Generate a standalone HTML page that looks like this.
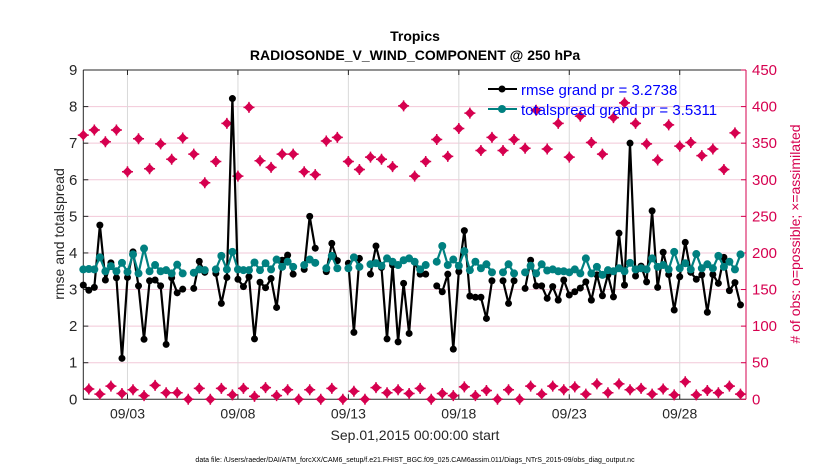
<!DOCTYPE html>
<html><head><meta charset="utf-8"><style>
body{margin:0;background:#fff;}
svg{display:block;font-family:"Liberation Sans",sans-serif;}
</style></head><body>
<svg id="chart" width="830" height="470" viewBox="0 0 830 470">
<rect width="830" height="470" fill="#fff"/>
<text x="415" y="41" text-anchor="middle" font-size="14" font-weight="bold">Tropics</text>
<text x="415" y="60" text-anchor="middle" font-size="14" font-weight="bold">RADIOSONDE_V_WIND_COMPONENT @ 250 hPa</text>
<g id="grid"></g><g id="axes"></g><g id="marks"></g>
<text x="415" y="440" text-anchor="middle" font-size="14" fill="#262626">Sep.01,2015 00:00:00 start</text>
<text x="415" y="462" text-anchor="middle" font-size="7" fill="#000">data file: /Users/raeder/DAI/ATM_forcXX/CAM6_setup/f.e21.FHIST_BGC.f09_025.CAM6assim.011/Diags_NTrS_2015-09/obs_diag_output.nc</text>
<text transform="translate(64,234) rotate(-90)" text-anchor="middle" font-size="14" fill="#262626">rmse and totalspread</text>
<text transform="translate(800,234) rotate(-90)" text-anchor="middle" font-size="14" fill="#d6004f"># of obs: o=possible; ×=assimilated</text>
<g>
<line x1="488" y1="89" x2="517" y2="89" stroke="#000" stroke-width="2"/>
<circle cx="502" cy="89" r="3.5" fill="#000"/>
<text x="521" y="95" font-size="15" fill="#0000ff">rmse grand pr = 3.2738</text>
<line x1="488" y1="109" x2="517" y2="109" stroke="#008080" stroke-width="2"/>
<circle cx="502" cy="109" r="4" fill="#008080"/>
<text x="521" y="115" font-size="15" fill="#0000ff">totalspread grand pr = 3.5311</text>
</g>
</svg>
<script>
const rmse=[3.12,2.98,3.06,4.76,3.26,3.73,3.32,1.12,3.33,4.03,3.1,1.64,3.24,3.26,3.1,1.5,3.32,2.91,3.01,null,3.03,3.77,3.47,null,3.44,2.62,3.33,8.22,3.28,3.08,3.35,1.65,3.2,3.05,3.3,2.51,3.8,3.94,3.42,null,3.55,5.0,4.13,null,3.49,4.26,3.79,null,3.72,1.83,3.85,null,3.42,4.19,3.6,1.65,3.67,1.57,3.17,1.8,3.76,3.42,3.42,null,3.1,2.94,3.42,1.37,3.49,4.61,2.82,2.79,2.79,2.21,3.24,null,3.24,2.62,3.24,null,3.03,3.8,3.1,3.1,2.76,3.08,2.71,3.26,2.85,2.94,3.04,3.21,2.71,3.4,2.83,3.4,2.8,4.54,3.12,7.0,3.37,3.64,3.21,5.15,3.06,4.02,3.41,2.44,3.35,4.29,3.47,3.28,3.4,2.38,3.41,3.17,3.88,2.97,3.19,2.58];
const spread=[3.55,3.56,3.55,3.88,3.5,3.64,3.5,3.73,3.48,3.96,3.44,4.12,3.5,3.67,3.5,3.53,3.44,3.68,3.44,null,3.46,3.55,3.53,null,3.55,3.92,3.55,4.03,3.55,3.53,3.53,3.74,3.53,3.72,3.55,3.82,3.62,3.76,3.62,null,3.67,3.82,3.73,null,3.58,3.92,3.58,null,3.58,3.88,3.62,null,3.69,3.72,3.65,3.85,3.76,3.67,3.8,3.85,3.76,3.55,3.67,null,3.76,4.19,3.67,3.82,3.65,4.05,3.53,3.76,3.58,3.69,3.47,null,3.47,3.69,3.44,null,3.47,3.65,3.44,3.69,3.52,3.55,3.5,3.5,3.47,3.55,3.44,3.85,3.44,3.62,3.4,3.53,3.5,3.58,3.5,3.73,3.55,3.58,3.55,3.85,3.62,3.67,3.55,4.03,3.58,3.72,3.55,3.97,3.58,3.69,3.58,3.92,3.62,3.76,3.55,3.96];
const obsSynoptic=[361,368,352,368,311,356,315,349,328,357,335,296,325,377,305,399,326,317,335,335,311,307,353,358,325,314,331,328,318,401,305,325,355,332,370,391,340,358,340,355,343,395,342,377,331,387,351,335,385,405,377,349,327,375,346,351,333,342,314,364];
const obsOffHour=[14,7,18,8,13,5,19,9,9,0,15,0,15,6,15,4,16,5,13,0,13,0,15,0,11,0,16,9,13,8,15,0,8,5,17,5,12,0,13,0,18,7,18,13,17,7,21,9,21,13,15,7,14,6,24,6,12,9,18,7];
const leftTicks=[0,1,2,3,4,5,6,7,8,9];
const rightTicks=[0,50,100,150,200,250,300,350,400,450];
const dateTicks=[2,7,12,17,22,27];
const dateLabels=["09/03","09/08","09/13","09/18","09/23","09/28"];
const stepDays=0.25;

const L=83.3,R=746,T=70,B=399.3;
const X=d=>L+(R-L)*d/30;
const Y=v=>B-(B-T)*v/9;
const Y2=v=>B-(B-T)*v/450;
const NS="http://www.w3.org/2000/svg";
function mk(tag,attrs,parent){const e=document.createElementNS(NS,tag);for(const k in attrs)e.setAttribute(k,attrs[k]);parent.appendChild(e);return e;}
const grid=document.getElementById('grid'),axes=document.getElementById('axes'),marks=document.getElementById('marks');

rightTicks.forEach(v=>{if(v===0)return;const l=mk('line',{x1:L,x2:R,y1:Y2(v),y2:Y2(v),stroke:'#f2c8d8','stroke-width':1},grid);

});
dateTicks.forEach(d=>{const l=mk('line',{x1:X(d),x2:X(d),y1:T,y2:B,stroke:'#d9d9d9','stroke-width':1},grid);

});

let a=mk('line',{x1:L,x2:L,y1:T,y2:B,stroke:'#262626','stroke-width':1},axes);


a=mk('line',{x1:L,x2:R,y1:B,y2:B,stroke:'#262626','stroke-width':1},axes);


a=mk('line',{x1:L,x2:R,y1:T,y2:T,stroke:'#262626','stroke-width':1},axes);


a=mk('line',{x1:R,x2:R,y1:T,y2:B,stroke:'#d6004f','stroke-width':1},axes);



leftTicks.forEach(v=>{mk('line',{x1:L,x2:L+5,y1:Y(v),y2:Y(v),stroke:'#262626'},axes);
const t=mk('text',{x:L-6,y:Y(v)+5,'text-anchor':'end','font-size':15,fill:'#262626'},axes);t.textContent=v;

});
rightTicks.forEach(v=>{mk('line',{x1:R-5,x2:R,y1:Y2(v),y2:Y2(v),stroke:'#d6004f'},axes);
const t=mk('text',{x:R+6,y:Y2(v)+5,'font-size':15,fill:'#d6004f'},axes);t.textContent=v;

});
dateTicks.forEach((d,i)=>{mk('line',{x1:X(d),x2:X(d),y1:B,y2:B-5,stroke:'#262626'},axes);mk('line',{x1:X(d),x2:X(d),y1:T,y2:T+5,stroke:'#262626'},axes);
const t=mk('text',{x:X(d),y:B+19,'text-anchor':'middle','font-size':14,fill:'#262626'},axes);t.textContent=dateLabels[i];

});

function obsMark(cx,cy){const g=mk('g',{},marks);
mk('path',{d:`M${cx-5},${cy}L${cx},${cy-5}L${cx+5},${cy}L${cx},${cy+5}Z`,fill:'#d6004f'},g);
mk('path',{d:`M${cx-5.5},${cy}H${cx+5.5}M${cx},${cy-5.5}V${cy+5.5}`,stroke:'#d6004f','stroke-width':1.5},g);
return g;}
obsSynoptic.forEach((v,i)=>{const g=obsMark(X(i*2*stepDays),Y2(v));

});
obsOffHour.forEach((v,i)=>{const g=obsMark(X((i*2+1)*stepDays),Y2(v));

});

function series(arr,color,r,name){
 let d='',pen=false;
 arr.forEach((v,i)=>{if(v===null){pen=false;return;}d+=(pen?'L':'M')+X(i*stepDays).toFixed(1)+','+Y(v).toFixed(1);pen=true;});
 const p=mk('path',{d:d,fill:'none',stroke:color,'stroke-width':2.2,'stroke-linejoin':'round'},marks);
 
 
 arr.forEach((v,i)=>{if(v===null)return;const c=mk('circle',{cx:X(i*stepDays),cy:Y(v),r:r,fill:color},marks);
 
 });
}
series(rmse,'#000',3.5,'rmse');
series(spread,'#008080',4,'totalspread');
</script>
</body></html>
